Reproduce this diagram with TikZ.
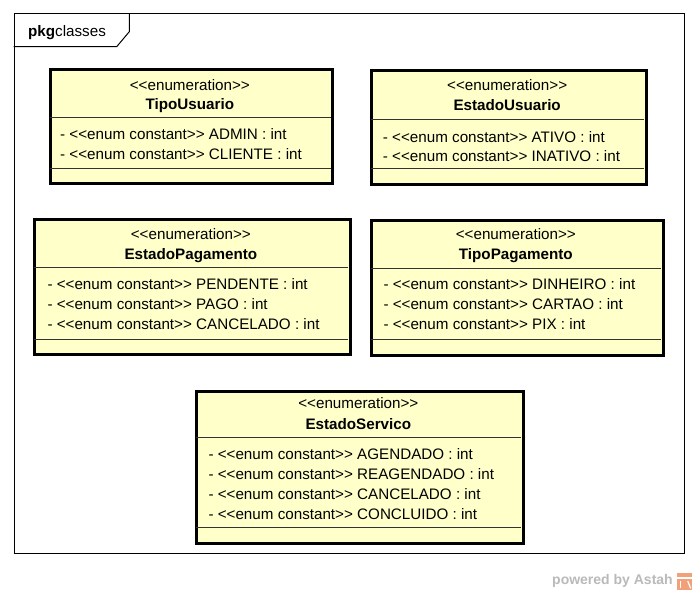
\documentclass[tikz,border=0pt]{standalone}
\usepackage{fontspec}
\setmainfont{Liberation Sans}
\definecolor{enumfill}{RGB}{255,255,202}
\definecolor{astahorange}{RGB}{242,160,122}
\newcommand\dlt{<\kern0pt<}
\newcommand\dgt{>\kern0pt>}
\newcommand\ec{- \dlt enum constant\dgt{} }
\begin{document}
\begin{tikzpicture}[x=1pt,y=-1pt,
  enumbox/.style={draw=black, line width=3pt, fill=enumfill, anchor=north west, inner sep=0pt},
  sepline/.style={draw=black!80, line width=1pt},
  stereo/.style={anchor=base, inner sep=0pt, font=\fontsize{15.2}{18}\selectfont},
  cname/.style={anchor=base, inner sep=0pt, font=\fontsize{15.2}{18}\selectfont\bfseries},
  attr/.style={anchor=base west, inner sep=0pt, font=\fontsize{15.2}{18}\selectfont},
  frameline/.style={draw=black, line width=1pt}]
\useasboundingbox (0,0) rectangle (697,593);
\fill[white] (0,0) rectangle (697,593);
% package frame
\node[frameline, anchor=north west, minimum width=670.5pt, minimum height=539.5pt, inner sep=0pt] (frame) at (13.5,13.5) {};
\coordinate (tabA) at (129.3,13.5);
\coordinate (tabB) at (129.3,31.7);
\coordinate (tabC) at (116.7,46.7);
\coordinate (tabD) at (13.5,46.7);
\draw[frameline, line join=miter] (tabA) -- (tabB) -- (tabC) -- (tabD);
\node[anchor=base west, inner sep=0pt, font=\fontsize{15.2}{18}\selectfont] (pkg) at (28,37) {\textbf{pkg}classes};

% TipoUsuario
\node[enumbox, minimum width=282.7pt, minimum height=114.3pt] (tu) at (48.5,68.2) {};
\draw[sepline] (49.5,117.5) -- (331.2,117.5);
\draw[sepline] (49.5,168.3) -- (331.2,168.3);
\node[stereo] (tus) at (189.85,91) {\dlt enumeration\dgt};
\node[cname] (tun) at (189.85,110) {TipoUsuario};
\node[attr] (tu1) at (60,140) {\ec ADMIN : int};
\node[attr] (tu2) at (60,160) {\ec CLIENTE : int};

% EstadoUsuario
\node[enumbox, minimum width=274.7pt, minimum height=114.7pt] (eu) at (369.8,68.8) {};
\draw[sepline] (370.8,120) -- (644,120);
\draw[sepline] (370.8,168.3) -- (644,168.3);
\node[stereo] (eus) at (507.15,90.5) {\dlt enumeration\dgt};
\node[cname] (eun) at (507.15,111) {EstadoUsuario};
\node[attr] (eu1) at (382.7,142.3) {\ec ATIVO : int};
\node[attr] (eu2) at (382.7,162) {\ec INATIVO : int};

% EstadoPagamento
\node[enumbox, minimum width=315.3pt, minimum height=134.6pt] (ep) at (33.2,218.2) {};
\draw[sepline] (34.2,267.7) -- (347.5,267.7);
\draw[sepline] (34.2,340) -- (347.5,340);
\node[stereo] (eps) at (190.85,240) {\dlt enumeration\dgt};
\node[cname] (epn) at (190.85,260) {EstadoPagamento};
\node[attr] (ep1) at (47.3,290) {\ec PENDENTE : int};
\node[attr] (ep2) at (47.3,310) {\ec PAGO : int};
\node[attr] (ep3) at (47.3,330) {\ec CANCELADO : int};

% TipoPagamento
\node[enumbox, minimum width=292pt, minimum height=135pt] (tp) at (369.8,219.2) {};
\draw[sepline] (370.8,268.3) -- (660.8,268.3);
\draw[sepline] (370.8,340) -- (660.8,340);
\node[stereo] (tps) at (515.8,239.5) {\dlt enumeration\dgt};
\node[cname] (tpn) at (515.8,259.5) {TipoPagamento};
\node[attr] (tp1) at (383.3,290) {\ec DINHEIRO : int};
\node[attr] (tp2) at (383.3,310) {\ec CARTAO : int};
\node[attr] (tp3) at (383.3,330) {\ec PIX : int};

% EstadoServico
\node[enumbox, minimum width=327pt, minimum height=152pt] (es) at (194.8,389.8) {};
\draw[sepline] (195.8,437.3) -- (520.8,437.3);
\draw[sepline] (195.8,527.7) -- (520.8,527.7);
\node[stereo] (ess) at (358.3,409) {\dlt enumeration\dgt};
\node[cname] (esn) at (358.3,430) {EstadoServico};
\node[attr] (es1) at (208.3,460) {\ec AGENDADO : int};
\node[attr] (es2) at (208.3,480) {\ec REAGENDADO : int};
\node[attr] (es3) at (208.3,500) {\ec CANCELADO : int};
\node[attr] (es4) at (208.3,520) {\ec CONCLUIDO : int};

% powered by Astah
\node[anchor=base west, inner sep=0pt, text=black!27, font=\fontsize{14}{16}\selectfont\bfseries] (pw) at (552,585) {powered by Astah};
\node[fill=astahorange, anchor=north west, minimum width=15pt, minimum height=17pt, inner sep=0pt] (logo) at (677,573) {};
\draw[white, line width=1.2pt] ([yshift=-5pt]logo.north west) -- ([yshift=-5pt]logo.north east);
\draw[white, line width=1.2pt] ([xshift=-4pt,yshift=-8pt]logo.north) -- ([xshift=-4pt,yshift=2pt]logo.south);
\draw[white, line width=1.2pt] ([xshift=3pt,yshift=-8pt]logo.north) -- ([xshift=6pt,yshift=2pt]logo.south);
\end{tikzpicture}
\end{document}
